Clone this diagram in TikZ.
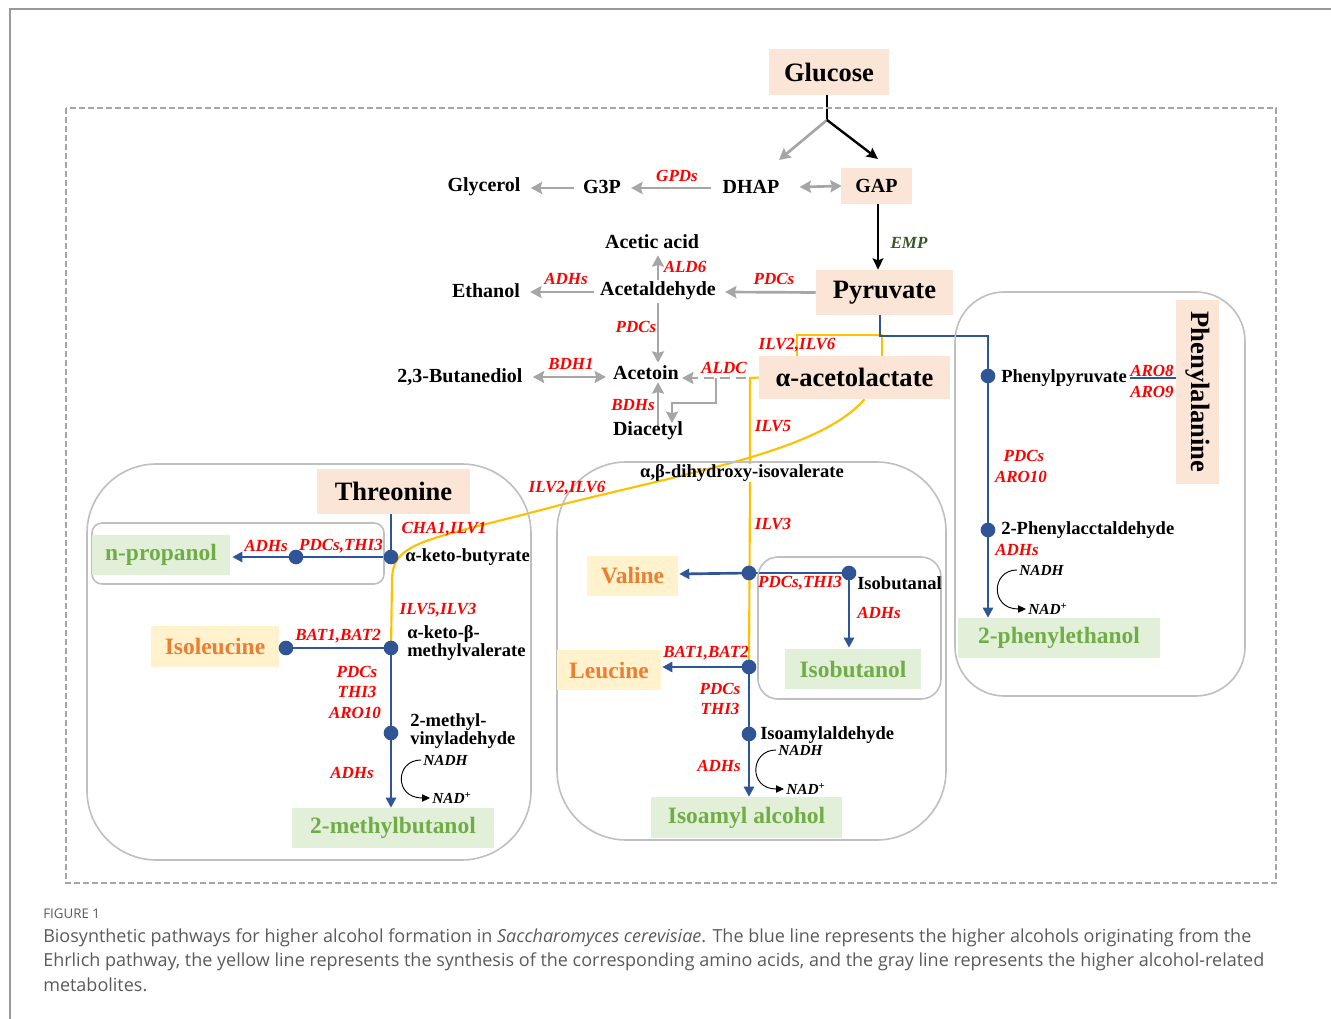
\documentclass[tikz,border=0pt]{standalone}
\usepackage{fontspec}
\setmainfont{Liberation Serif}
\newfontfamily\capfont{Open Sans}
\usetikzlibrary{arrows.meta,calc,backgrounds}
\definecolor{peach}{HTML}{FBE5D6}
\definecolor{lgreen}{HTML}{E2F0D9}
\definecolor{dgreen}{HTML}{70AD47}
\definecolor{lorange}{HTML}{FFF2CC}
\definecolor{dorange}{HTML}{ED7D31}
\definecolor{pblue}{HTML}{2F5597}
\definecolor{pyellow}{HTML}{FFC000}
\definecolor{pgray}{HTML}{A6A6A6}
\definecolor{boxgray}{HTML}{BFBFBF}
\definecolor{empgreen}{HTML}{385723}
\definecolor{capgray}{HTML}{5A5A5A}
\begin{document}
\begin{tikzpicture}[x=0.75pt,y=-0.75pt,
  big/.style={font=\fontsize{19.9}{22}\selectfont\bfseries, inner sep=0pt},
  med/.style={font=\fontsize{15}{17}\selectfont\bfseries, inner sep=0pt},
  prod/.style={font=\fontsize{17.6}{20}\selectfont\bfseries, inner sep=0pt},
  sm/.style={font=\fontsize{13.9}{12.5}\selectfont\bfseries, inner sep=0pt, align=left},
  enz/.style={text=red, font=\fontsize{12.75}{14}\selectfont\bfseries\itshape, inner sep=0pt},
  nad/.style={font=\fontsize{11.5}{13}\selectfont\bfseries\itshape, inner sep=0pt},
  pbox/.style={fill=peach, inner sep=0pt},
  gbox/.style={fill=lgreen, text=dgreen, prod},
  obox/.style={fill=lorange, text=dorange, prod},
  dot/.style={circle, fill=pblue, inner sep=0pt, minimum size=11pt},
  gtip/.tip={Stealth[length=8.5pt,width=9pt,inset=1.2pt]},
  garrow/.style={draw=pgray, line width=2pt, -gtip},
  gdarrow/.style={draw=pgray, line width=2pt, gtip-gtip},
  kline/.style={draw=black, line width=1.8pt},
  karrow/.style={draw=black, line width=1.8pt, -{Stealth[length=8.5pt,width=8pt,inset=1.5pt]}},
  bline/.style={draw=pblue, line width=2pt},
  barrow/.style={draw=pblue, line width=2pt, -{Triangle[length=7.5pt,width=7.5pt]}},
  yline/.style={draw=pyellow, line width=1.6pt},
  narrow/.style={draw=black, line width=0.7pt, -{Triangle[length=6pt,width=5.5pt]}},
  rbox/.style={draw=boxgray, line width=1.2pt},
]
\useasboundingbox (0,0) rectangle (1331,1019);

% ---------- frames ----------
\draw[gray!80, line width=1pt] (10,1019) -- (10,9) -- (1331,9);
\draw[pgray, line width=0.9pt, dash pattern=on 4.5pt off 2.25pt] (66,108) rectangle (1276,883);

% ---------- rounded group boxes ----------
\draw[rbox, rounded corners=52pt] (87,464) rectangle (531,860);
\draw[rbox, rounded corners=52pt] (557,462) rectangle (946,840);
\draw[rbox, rounded corners=37pt] (955,292) rectangle (1245,696);
\draw[rbox, rounded corners=7.5pt] (92,523) rectangle (384,584);
\draw[rbox, rounded corners=15pt] (758,557) rectangle (941,699);

% ---------- boxes ----------
\node[pbox,big,minimum width=90pt,minimum height=34.5pt] (glucose) at (829,72) {Glucose};
\node[pbox,med,minimum width=53.25pt,minimum height=27pt] (gap) at (876.5,186) {GAP};
\node[pbox,big,minimum width=102.75pt,minimum height=33.75pt] (pyr) at (884.5,292.5) {Pyruvate};
\node[pbox,big,minimum width=143.25pt,minimum height=32.25pt] (acl) at (854.5,377.5) {α-acetolactate};
\node[pbox,big,minimum width=114.75pt,minimum height=33.75pt] (thr) at (393.5,491.5) {Threonine};
\node[pbox,big,rotate=-90,minimum width=138pt,minimum height=32.25pt] (phe) at (1197.5,392) {Phenylalanine};

\node[gbox,minimum width=103.5pt,minimum height=30pt] (nprop) at (161,555) {n-propanol};
\node[gbox,minimum width=151.5pt,minimum height=30pt] (mbut) at (393,828) {2-methylbutanol};
\node[gbox,minimum width=102pt,minimum height=30pt] (isobut) at (853,669) {Isobutanol};
\node[gbox,minimum width=143.25pt,minimum height=30.75pt] (isoam) at (746.5,817.5) {Isoamyl alcohol};
\node[gbox,minimum width=151.5pt,minimum height=30pt] (pheeth) at (1059,638) {2-phenylethanol};

\node[obox,minimum width=96pt,minimum height=30.75pt] (ile) at (215,646.5) {Isoleucine};
\node[obox,minimum width=68.25pt,minimum height=30pt] (valine) at (632.5,576) {Valine};
\node[obox,minimum width=78pt,minimum height=30pt] (leucine) at (609,670) {Leucine};

% ---------- plain metabolites ----------
\node[med] (glycerol) at (484,187) {Glycerol};
\node[med] (g3p) at (602,187) {G3P};
\node[med] (dhap) at (751,187) {DHAP};
\node[med] (acetic) at (652,242) {Acetic acid};
\node[med] (acet) at (658,291) {Acetaldehyde};
\node[med] (ethanol) at (486,291) {Ethanol};
\node[med] (acetoin) at (646,373) {Acetoin};
\node[med] (bdo) at (460,377) {2,3-Butanediol};
\node[med] (diacetyl) at (648,431) {Diacetyl};

\node[sm] (dihy) at (742,473) {α,β-dihydroxy-isovalerate};
\node[sm,anchor=west] (kbt) at (405,557) {α-keto-butyrate};
\node[sm,anchor=west] (kmvt) at (407,643) {α-keto-β-\\methylvalerate};
\node[sm,anchor=west] (mvht) at (410,731) {2-methyl-\\vinyladehyde};
\node[sm,anchor=west] (isbt) at (857,583) {Isobutanal};
\node[sm,anchor=west] (iaat) at (760,735) {Isoamylaldehyde};
\node[sm,anchor=west] (phpyr) at (1001,378) {Phenylpyruvate};
\node[sm,anchor=west] (pact) at (1001,530) {2-Phenylacctaldehyde};

% ---------- dots ----------
\node[dot] (kb) at (391,557) {};
\node[dot] (np) at (296,557) {};
\node[dot] (kmv) at (391,648) {};
\node[dot] (iled) at (286,648) {};
\node[dot] (mvh) at (391,733) {};
\node[dot] (val) at (749,573) {};
\node[dot] (isb) at (849,573) {};
\node[dot] (leu) at (749,667) {};
\node[dot] (iaa) at (749,734) {};
\node[dot] (php) at (988,376) {};
\node[dot] (pac) at (988,530) {};

% ---------- NADH labels ----------
\node[nad,anchor=west] (nadh1) at (423,760) {NADH};
\node[nad,anchor=west] (nadp1) at (432,798) {NAD\textsuperscript{+}};
\node[nad,anchor=west] (nadh2) at (778,750) {NADH};
\node[nad,anchor=west] (nadp2) at (786,789) {NAD\textsuperscript{+}};
\node[nad,anchor=west] (nadh3) at (1019,570) {NADH};
\node[nad,anchor=west] (nadp3) at (1028,609) {NAD\textsuperscript{+}};

% ---------- enzyme labels ----------
\node[enz] (e1) at (677,176) {GPDs};
\node[enz] (e2) at (774,279) {PDCs};
\node[enz] (e3) at (566,279) {ADHs};
\node[enz] (e4) at (685,267) {ALD6};
\node[enz] (e5) at (636,327) {PDCs};
\node[enz] (e6) at (571,364) {BDH1};
\node[enz] (e7) at (724,368) {ALDC};
\node[enz] (e8) at (633,405) {BDHs};
\node[enz] (e9) at (797,345) {ILV2,ILV6};
\node[enz] (e10) at (773,426) {ILV5};
\node[enz] (e11) at (567,488) {ILV2,ILV6};
\node[enz] (e12) at (444,529) {CHA1,ILV1};
\node[enz] (e13) at (266,546) {ADHs};
\node[enz] (e14) at (341,546) {PDCs,THI3};
\node[enz] (e15) at (438,610) {ILV5,ILV3};
\node[enz] (e16) at (338,636) {BAT1,BAT2};
\node[enz] (e17) at (357,672) {PDCs};
\node[enz] (e18) at (357,692) {THI3};
\node[enz] (e19) at (355,713) {ARO10};
\node[enz] (e20) at (352,773) {ADHs};
\node[enz] (e21) at (773,524) {ILV3};
\node[enz] (e22) at (800,583) {PDCs,THI3};
\node[enz] (e23) at (879,613) {ADHs};
\node[enz] (e24) at (706,653) {BAT1,BAT2};
\node[enz] (e25) at (720,689) {PDCs};
\node[enz] (e26) at (720,709) {THI3};
\node[enz] (e27) at (719,766) {ADHs};
\node[enz] (e28) at (1152,371) {ARO8};
\node[enz] (e29) at (1152,392) {ARO9};
\node[enz] (e30) at (1024,456) {PDCs};
\node[enz] (e31) at (1021,477) {ARO10};
\node[enz] (e32) at (1017,550) {ADHs};
\node[enz,text=empgreen] (emp) at (909,243) {EMP};

% ---------- connectors (behind nodes) ----------
\begin{scope}[on background layer]
\coordinate (split) at (827,120);
\coordinate (dhaptip) at (779,160);
\coordinate (gaptip) at (878,159);
\draw[kline] (glucose.south -| split) -- (split);
\draw[garrow] (split) -- (dhaptip);
\draw[karrow] (split) -- (gaptip);

\draw[garrow] ($(dhap.west)+(-11,1)$) -- ($(g3p.east)+(10,1)$);
\draw[garrow] ($(g3p.west)+(-9,1)$) -- ($(glycerol.east)+(10,1)$);
\draw[gdarrow] ($(dhap.east)+(20,0)$) -- ($(gap.west)+(1,0)$);
\draw[karrow] ($(gap.south)+(1.5,0)$) -- ($(pyr.north)+(-6.5,0)$);

\draw[garrow] (pyr.west) -- ($(acet.east)+(9,1)$);
\draw[garrow] ($(acet.west)+(-6,1)$) -- ($(ethanol.east)+(10,1)$);
\draw[garrow] ($(acet.north)+(0,-2)$) -- ($(acetic.south)+(6,6)$);
\draw[garrow] ($(acet.south)+(0,3)$) -- ($(acetoin.north)+(12,-3)$);
\draw[gdarrow] ($(bdo.east)+(10,0)$) -- ($(acetoin.west)+(-7,4)$);
\draw[garrow, dash pattern=on 7.5pt off 4.5pt] ($(acl.west)+(-13,0.5)$) -- ($(acetoin.east)+(3,5)$);
\coordinate (aldcb) at (716,378);
\draw[garrow] (aldcb) -- ++(0,25) -- ++(-44,0) -- ++(0,20);
\draw[garrow] ($(diacetyl.north)+(10,5)$) -- ($(acetoin.south)+(12,2)$);

% yellow
\coordinate (ytr) at (882,335);
\coordinate (ytl) at (797,335);
\draw[yline] (acl.north -| ytr) -- (ytr) -- (ytl) -- (acl.north -| ytl);
\coordinate (yv) at (750,378);
\draw[yline] (acl.west) -- (yv) -- (dihy.north -| yv);
\draw[yline] (dihy.south -| yv) -- (leu.center);
\draw[yline] ($(acl.south)+(10,0)$) .. controls (820,450) and (700,470) .. (560,505)
   .. controls (430,540) and (392,540) .. (392,580) -- (kmv.center);

% blue
\coordinate (brk) at (880,336);
\draw[bline] ($(pyr.south)+(-4.5,0)$) -- (brk) -- (php |- brk) -- (php.center);
\draw[barrow] (php.center) -- (pac.center) -- (pheeth.north -| pac);
\draw[bline] ($(phpyr.east)+(3,0)$) -- (phe.south |- phpyr);
\draw[bline] (thr.south -| kb) -- (kb.center);
\draw[barrow] (kb.center) -- (np.center) -- ($(nprop.east |- kb)+(2,0)$);
\draw[bline] (kmv.center) -- (iled.center);
\draw[barrow] (kmv.center) -- (mvh.center) -- (mbut.north -| kmv);
\draw[barrow] (val.center) -- ($(valine.east |- val)+(1,1)$);
\draw[bline] (val.center) -- (isb.center);
\draw[barrow] (isb.center) -- ($(isobut.north -| isb)+(0,-1)$);
\draw[barrow] (leu.center) -- ($(leucine.east |- leu)+(1,0)$);
\draw[barrow] (leu.center) -- (iaa.center) -- (isoam.north -| leu);

% NADH curls
\draw[narrow] ($(nadh1.west)+(-2,0)$) .. controls +(-26,0) and +(-36,0) .. ($(nadp1.west)+(-2,0)$);
\draw[narrow] ($(nadh2.west)+(-2,0)$) .. controls +(-26,0) and +(-36,0) .. ($(nadp2.west)+(-2,0)$);
\draw[narrow] ($(nadh3.west)+(-2,0)$) .. controls +(-26,0) and +(-36,0) .. ($(nadp3.west)+(-2,0)$);
\end{scope}

% ---------- caption ----------
\node[anchor=west, inner sep=0pt, text=capgray, font=\capfont\fontsize{10}{12}\selectfont] (figlab) at (43,914) {FIGURE 1};
\node[anchor=west, inner sep=0pt, text=capgray, font=\capfont\fontsize{13.5}{15}\selectfont] (cap1) at (43,938) {Biosynthetic pathways for higher alcohol formation in \textit{Saccharomyces cerevisiae}. The blue line represents the higher alcohols originating from the};
\node[anchor=west, inner sep=0pt, text=capgray, font=\capfont\fontsize{13.5}{15}\selectfont] (cap2) at (43,962) {Ehrlich pathway, the yellow line represents the synthesis of the corresponding amino acids, and the gray line represents the higher alcohol-related};
\node[anchor=west, inner sep=0pt, text=capgray, font=\capfont\fontsize{13.5}{15}\selectfont] (cap3) at (43,985) {metabolites.};
\end{tikzpicture}
\end{document}
